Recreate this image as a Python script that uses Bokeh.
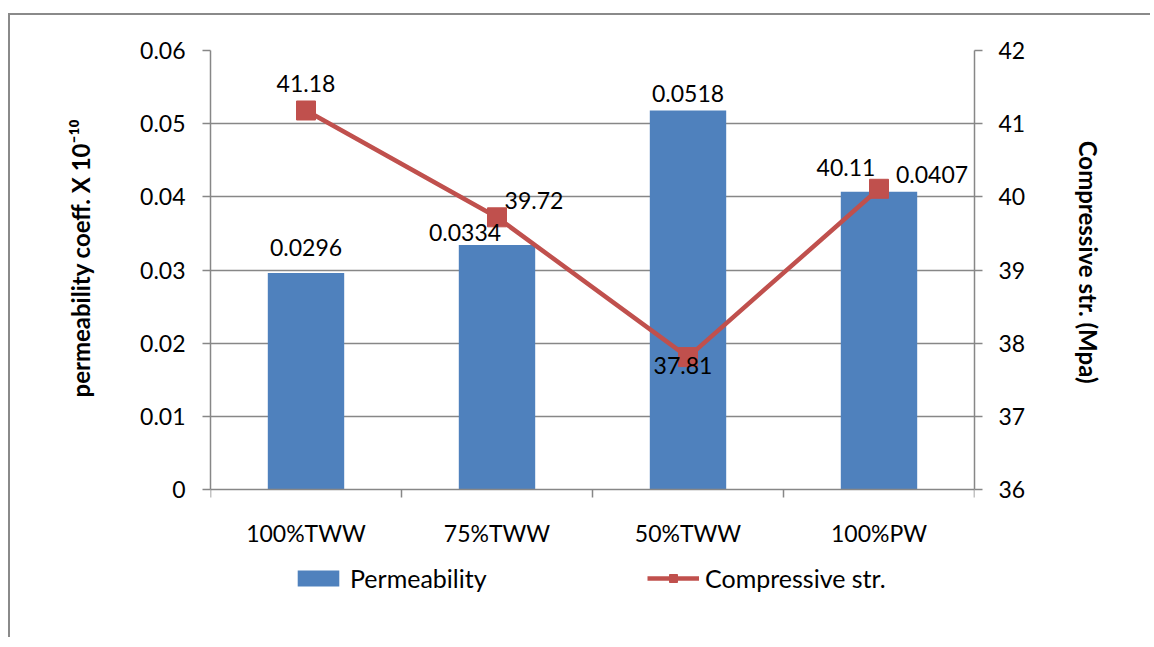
import math
from bokeh.plotting import figure
from bokeh.models import (Range1d, LinearAxis, FixedTicker, NumeralTickFormatter,
                          ColumnDataSource, Legend, LegendItem, Title)
from bokeh.embed import file_html
from bokeh.resources import INLINE
from bokeh.core.properties import value

# ---- data ----
categories = ["100%TWW", "75%TWW", "50%TWW", "100%PW"]
permeability = [0.0296, 0.0334, 0.0518, 0.0407]
compressive = [41.18, 39.72, 37.81, 40.11]
perm_ticks = [0, 0.01, 0.02, 0.03, 0.04, 0.05, 0.06]
cs_ticks = [36, 37, 38, 39, 40, 41, 42]
left_title = "permeability coeff. X 10\u207b\u00b9\u2070"
right_title = "Compressive str. (Mpa)"
series_names = ["Permeability", "Compressive str."]

FONT = "Lato"
FS = "23px"
TFS = "24px"
BLUE = "#4F81BD"
RED = "#C0504D"
GRAY = "#878787"

# layout (pixels): plot frame extends below the value axis so the legend fits inside it
TOP_PX, ZERO_PX, BOTTOM_PX = 50, 489, 620
ext = (BOTTOM_PX - ZERO_PX) / (ZERO_PX - TOP_PX)

xpos = [i + 0.5 for i in range(len(categories))]
p_lo, p_hi = perm_ticks[0], perm_ticks[-1]
c_lo, c_hi = cs_ticks[0], cs_ticks[-1]

p = figure(width=1142, height=624, output_backend="svg", toolbar_location=None,
           x_range=Range1d(0, len(categories)),
           y_range=Range1d(p_lo - ext * (p_hi - p_lo), p_hi),
           min_border_left=200, min_border_right=178, min_border_top=35, min_border_bottom=19,
           background_fill_color="white", border_fill_color="white")
p.styles = {"border-left": "2px solid #8a8a8a", "border-top": "2px solid #8a8a8a",
            "margin-top": "13px", "margin-left": "8px"}
p.outline_line_color = None
p.extra_y_ranges = {"cs": Range1d(c_lo - ext * (c_hi - c_lo), c_hi)}

# grid
p.xgrid.visible = False
p.ygrid[0].ticker = FixedTicker(ticks=perm_ticks[1:-1])
p.ygrid.grid_line_color = GRAY
p.ygrid.grid_line_width = 1.5


def style_axis(ax):
    ax.axis_line_color = GRAY
    ax.axis_line_width = 1.5
    ax.major_tick_line_color = GRAY
    ax.major_tick_line_width = 1.5
    ax.minor_tick_line_color = GRAY
    ax.minor_tick_line_width = 1.5
    ax.major_tick_in = 0
    ax.major_tick_out = 8
    ax.minor_tick_in = 0
    ax.minor_tick_out = 0
    ax.major_label_text_font = FONT
    ax.major_label_text_font_size = FS
    ax.major_label_text_color = "black"


# left axis
ya = p.yaxis[0]
ya.ticker = FixedTicker(ticks=perm_ticks)
ya.bounds = (p_lo, p_hi)
ya.formatter = NumeralTickFormatter(format="0.[00]")
style_axis(ya)
ya.major_label_standoff = 17

# left title (panel outside the axis, positioned along the frame)
lt = Title(text=left_title, align="left", vertical_align="bottom", offset=223,
           text_font=FONT, text_font_size=TFS, text_font_style="bold",
           text_color="black")
if "standoff" in Title.properties():
    lt.standoff = 86
p.add_layout(lt, "left")

# right axis
ra = LinearAxis(y_range_name="cs", ticker=FixedTicker(ticks=cs_ticks), bounds=(c_lo, c_hi))
style_axis(ra)
ra.major_label_standoff = 16
p.add_layout(ra, "right")

rt = Title(text=right_title, align="right", vertical_align="bottom", offset=237,
           text_font=FONT, text_font_size=TFS, text_font_style="bold",
           text_color="black")
if "standoff" in Title.properties():
    rt.standoff = 90
p.add_layout(rt, "right")

# x axis (sits at value 0, category names drawn as text below it)
xa = p.xaxis[0]
style_axis(xa)
xa.fixed_location = 0
xa.ticker = FixedTicker(ticks=xpos, minor_ticks=list(range(len(categories) + 1)))
xa.major_label_overrides = {x: "" for x in xpos}
xa.major_label_text_font_size = "0px"
xa.major_label_standoff = 0
xa.major_tick_out = 0
xa.minor_tick_out = 8

src = ColumnDataSource(dict(x=xpos, cat=categories, zero=[0] * len(categories),
                            perm=permeability, cs=compressive,
                            perm_txt=[str(v) for v in permeability],
                            cs_txt=[str(v) for v in compressive]))
p.text(x="x", y="zero", text="cat", source=src, y_offset=43,
       text_align="center", text_baseline="middle", text_font=value(FONT),
       text_font_size=FS, text_color="black")

# bars
bars = p.vbar(x="x", top="perm", width=0.4, bottom=0, source=src,
              fill_color=BLUE, line_color=None)

# line
line = p.line(x="x", y="cs", source=src, y_range_name="cs", line_color=RED, line_width=4.5)
marks = p.scatter(x="x", y="cs", source=src, y_range_name="cs", marker="square",
                  size=19, fill_color=RED, line_color=RED)

# data labels (pixel offsets only)
src.data["bx_off"] = [0, -32, 0, 53]
src.data["by_off"] = [-25, -13, -17, -17]
src.data["lx_off"] = [0, 37, -5, -33]
src.data["ly_off"] = [-27, -17, 8, -21]
p.text(x="x", y="perm", text="perm_txt", source=src, x_offset="bx_off", y_offset="by_off",
       text_align="center", text_baseline="middle", text_font=value(FONT),
       text_font_size=FS, text_color="black")
p.text(x="x", y="cs", text="cs_txt", source=src, y_range_name="cs",
       x_offset="lx_off", y_offset="ly_off",
       text_align="center", text_baseline="middle", text_font=value(FONT),
       text_font_size=FS, text_color="black")

# legend (inside the extended frame, under the category names)
lg = Legend(items=[LegendItem(label=series_names[0], renderers=[bars]),
                   LegendItem(label=series_names[1], renderers=[line, marks])],
            location=(82, 27), orientation="horizontal", padding=0, margin=0,
            spacing=0, border_line_color=None, background_fill_alpha=0,
            glyph_width=52, glyph_height=20, label_height=20, label_width=297,
            label_standoff=6, label_text_font=FONT, label_text_font_size="25px",
            label_text_color="black")
p.add_layout(lg, "center")

open("out.html", "w").write(file_html(p, INLINE))
